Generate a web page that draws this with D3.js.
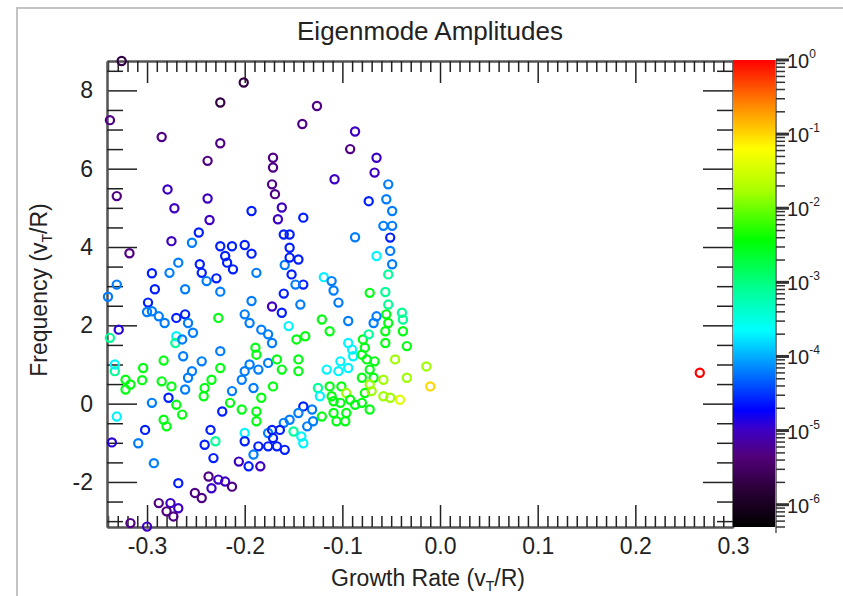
<!DOCTYPE html>
<html>
<head>
<meta charset="utf-8">
<script src="https://cdn.jsdelivr.net/npm/d3@7"></script>
<style>
  body { margin: 0; background: #fff; }
  text { font-family: "Liberation Sans", Arial, Helvetica, sans-serif; fill: #222; }
</style>
</head>
<body>
<div id="chart"></div>
<script>
// eigenmode growth rate, frequency and log10 amplitude
const growthRate = [
  -0.326, -0.201, -0.225, -0.338, -0.285, -0.225, -0.238, -0.331, -0.279, -0.238,
  -0.272, -0.193, -0.236, -0.275, -0.318, -0.247, -0.254, -0.225, -0.213, -0.200,
  -0.193, -0.220, -0.218, -0.212, -0.268, -0.277, -0.295, -0.246, -0.244, -0.239,
  -0.229, -0.188, -0.331, -0.292, -0.261, -0.225,
  -0.126, -0.141, -0.087, -0.092, -0.065, -0.171, -0.171, -0.108, -0.067, -0.053,
  -0.172, -0.169, -0.162, -0.073, -0.055, -0.049, -0.140, -0.166, -0.160, -0.154,
  -0.058, -0.049, -0.087, -0.051, -0.154, -0.051, -0.145, -0.159, -0.154, -0.065,
  -0.049, -0.152, -0.140, -0.148, -0.119, -0.111, -0.109, -0.053, -0.160, -0.072,
  -0.056,
  -0.299, -0.295, -0.300, -0.288, -0.282, -0.270, -0.261, -0.258, -0.253, -0.227,
  -0.193, -0.172, -0.200, -0.195, -0.183, -0.176, -0.340, -0.329, -0.338, -0.270,
  -0.271, -0.264, -0.263, -0.283, -0.304, -0.333, -0.333, -0.322, -0.322, -0.317,
  -0.305, -0.285, -0.275, -0.278, -0.295, -0.261, -0.254, -0.258, -0.244, -0.225,
  -0.225, -0.234, -0.241, -0.242, -0.270, -0.264, -0.283, -0.280, -0.331, -0.302,
  -0.309, -0.336, -0.293, -0.268, -0.235, -0.241, -0.230, -0.232, -0.223, -0.215,
  -0.213, -0.203, -0.200, -0.189, -0.188, -0.195, -0.186, -0.176, -0.191, -0.183,
  -0.203, -0.188, -0.188, -0.200, -0.176, -0.200, -0.186, -0.176, -0.191, -0.206,
  -0.196, -0.184, -0.237, -0.227, -0.220, -0.213, -0.234, -0.251, -0.244, -0.288,
  -0.276, -0.268, -0.280, -0.273, -0.317, -0.300,
  -0.143, -0.162, -0.104, -0.053, -0.039, -0.038, -0.055, -0.065, -0.068, -0.053,
  -0.038, -0.056, -0.056, -0.034, -0.121, -0.113, -0.094, -0.155, -0.147, -0.138,
  -0.172, -0.094, -0.079, -0.073, -0.077, -0.090, -0.089, -0.080, -0.075, -0.067,
  -0.046, -0.014, -0.034, -0.010, -0.167, -0.145, -0.162, -0.145, -0.116, -0.102,
  -0.104, -0.094, -0.080, -0.072, -0.068, -0.058, -0.072, -0.077, -0.070, -0.058,
  -0.051, -0.041, -0.171, -0.125, -0.113, -0.123, -0.111, -0.101, -0.096, -0.092,
  -0.109, -0.102, -0.087, -0.080, -0.072, -0.131, -0.140, -0.145, -0.121, -0.109,
  -0.096, -0.106, -0.097, -0.130, -0.136, -0.154, -0.160, -0.164, -0.172, -0.150,
  -0.142, -0.140, -0.171, -0.167, -0.159,
  0.266
];
const frequency = [
  8.75, 8.20, 7.69, 7.24, 6.81, 6.65, 6.20, 5.30, 5.47, 5.24,
  4.99, 4.92, 4.69, 4.15, 3.84, 4.37, 4.11, 4.02, 4.02, 4.05,
  3.83, 3.77, 3.60, 3.43, 3.60, 3.34, 3.33, 3.56, 3.34, 3.13,
  3.20, 3.34, 3.04, 2.92, 2.92, 2.86,
  7.60, 7.14, 6.95, 6.50, 6.28, 6.28, 6.03, 5.73, 5.90, 5.60,
  5.60, 5.35, 5.01, 5.17, 5.22, 4.92, 4.75, 4.71, 4.32, 4.32,
  4.54, 4.54, 4.25, 4.24, 3.98, 3.90, 3.68, 3.54, 3.73, 3.77,
  3.56, 3.30, 3.04, 3.04, 3.23, 3.13, 2.89, 3.30, 2.81, 2.83,
  2.85,
  2.58, 2.36, 2.34, 2.23, 2.06, 2.19, 2.28, 2.06, 1.81, 2.19,
  2.62, 2.48, 2.28, 2.06, 1.89, 1.77, 2.73, 1.89, 1.68, 1.72,
  1.55, 1.64, 1.21, 1.10, 0.91, 0.83, 1.00, 0.61, 0.36, 0.49,
  0.60, 0.57, 0.44, 0.15, 0.02, 0.36, 0.83, 0.66, 1.08, 1.34,
  0.91, 0.61, 0.40, 0.19, -0.03, -0.28, -0.41, -0.58, -0.33, -0.67,
  -1.01, -0.99, -1.52, -2.03, -0.67, -1.05, -0.96, -1.39, -0.20, 0.02,
  0.32, 0.61, 0.83, 1.43, 1.25, 1.00, 0.87, 1.04, 0.40, 0.15,
  -0.15, -0.20, -0.45, -0.75, -0.75, -0.96, -1.09, -1.09, -1.30, -1.48,
  -1.60, -1.60, -1.86, -1.94, -1.99, -2.12, -2.16, -2.28, -2.41, -2.54,
  -2.54, -2.67, -2.75, -2.88, -3.05, -3.14,
  2.53, 2.32, 2.58, 2.53, 2.32, 2.15, 2.28, 2.23, 2.06, 2.06,
  1.85, 1.85, 1.55, 1.47, 2.15, 1.85, 2.11, 1.98, 1.64, 1.72,
  1.55, 1.55, 1.64, 1.77, 1.43, 1.38, 1.21, 1.25, 1.13, 1.08,
  1.13, 0.95, 0.66, 0.44, 1.13, 1.13, 0.87, 0.83, 0.87, 1.08,
  0.83, 0.91, 0.66, 0.87, 0.66, 0.61, 0.49, 0.27, 0.32, 0.19,
  0.15, 0.10, 0.44, 0.40, 0.44, 0.19, 0.19, 0.44, 0.27, 0.10,
  0.06, 0.02, -0.03, 0.02, -0.15, -0.15, -0.07, -0.24, -0.33, -0.24,
  -0.24, -0.45, -0.45, -0.45, -0.58, -0.41, -0.49, -0.67, -0.67, -0.71,
  -0.84, -1.01, -0.88, -1.09, -1.18,
  0.79
];
const log10Amplitude = [
  -5.7, -5.7, -5.7, -5.3, -5.3, -5.3, -5.3, -5.3, -5.0, -5.0,
  -5.0, -4.6, -5.0, -5.0, -5.3, -4.6, -4.2, -4.6, -4.6, -4.6,
  -4.6, -4.6, -4.6, -4.6, -4.2, -4.2, -4.6, -4.6, -4.6, -4.2,
  -4.6, -4.2, -4.2, -4.6, -4.2, -4.2,
  -5.3, -5.3, -5.0, -5.3, -5.0, -5.3, -5.3, -5.0, -5.0, -4.2,
  -5.3, -5.3, -5.0, -4.6, -4.2, -4.2, -4.6, -5.0, -4.6, -4.6,
  -4.2, -4.2, -4.2, -4.6, -4.6, -4.2, -4.6, -4.2, -4.6, -3.7,
  -4.2, -4.6, -4.6, -4.2, -3.7, -4.2, -4.2, -3.1, -4.6, -2.5,
  -3.1,
  -4.6, -4.2, -4.2, -4.2, -4.2, -4.6, -4.6, -4.2, -4.2, -2.5,
  -4.2, -5.0, -4.2, -4.2, -4.2, -4.2, -4.2, -4.9, -3.1, -3.7,
  -3.1, -4.2, -4.2, -2.5, -2.5, -3.1, -3.7, -2.5, -2.5, -2.5,
  -2.5, -2.5, -2.5, -4.6, -4.2, -4.2, -4.2, -4.2, -4.2, -4.2,
  -2.5, -2.5, -2.5, -2.5, -2.5, -2.5, -2.5, -2.5, -3.7, -4.6,
  -4.2, -4.9, -4.2, -4.6, -4.6, -4.6, -3.1, -4.6, -4.6, -2.5,
  -4.2, -4.2, -4.2, -2.5, -2.5, -4.2, -4.2, -4.2, -4.2, -2.5,
  -2.5, -2.5, -2.5, -3.7, -4.2, -4.6, -4.6, -4.6, -4.2, -5.0,
  -4.6, -5.0, -5.3, -5.0, -5.0, -5.3, -5.0, -5.3, -5.3, -5.3,
  -5.0, -5.0, -5.3, -5.3, -5.3, -5.0,
  -4.2, -4.6, -4.2, -3.1, -3.1, -3.1, -2.5, -4.2, -4.2, -2.5,
  -2.5, -2.5, -2.5, -2.5, -2.5, -2.5, -4.2, -3.7, -2.5, -2.5,
  -4.2, -3.7, -2.5, -3.1, -2.5, -3.7, -3.7, -2.5, -2.5, -2.5,
  -1.8, -1.8, -1.8, -1.0, -2.5, -2.5, -2.5, -2.5, -3.7, -3.7,
  -3.7, -3.7, -2.5, -2.5, -2.5, -1.8, -1.8, -2.5, -1.8, -1.8,
  -1.8, -1.4, -2.5, -3.1, -2.5, -3.7, -2.5, -2.5, -1.8, -2.5,
  -2.5, -2.5, -2.5, -2.5, -2.5, -4.2, -4.6, -4.2, -2.5, -2.5,
  -2.5, -2.5, -2.5, -4.2, -4.2, -4.2, -4.2, -4.6, -4.6, -3.1,
  -3.7, -3.7, -4.6, -4.6, -4.6,
  0.0
];

const xTicks = [-0.3, -0.2, -0.1, 0.0, 0.1, 0.2, 0.3];
const yTicks = [-2, 0, 2, 4, 6, 8];
const cbDecades = [0, -1, -2, -3, -4, -5, -6];

const W = 843, H = 596;
const pLeft = 107, pRight = 733, pTop = 61, pBottom = 527;
const cbLeft = 733, cbRight = 775;

const svg = d3.select('#chart').append('svg')
  .attr('width', W).attr('height', H);

// window border seen in the screenshot
svg.append('path')
  .attr('d', `M17,${H} L17,8 L${W},8`)
  .attr('fill', 'none').attr('stroke', '#c4c4c4').attr('stroke-width', 2);

const x = d3.scaleLinear().domain([-0.341, 0.3]).range([pLeft, pRight]);
const y = d3.scaleLinear().domain([-3.15, 8.75]).range([pBottom, pTop]);

// rainbow + black colour table
const cmapStops = [0, 0.08, 0.15, 0.21, 0.25, 0.33, 0.42, 0.5, 0.615, 0.72, 0.81, 0.9, 1];
const cmapColors = ['#000000', '#2a0038', '#520078', '#3c00c8', '#0000ff', '#0078ff', '#00ffff',
  '#00ffa0', '#00ff00', '#a8ff00', '#ffff00', '#ff8c00', '#ff0000'];
const cmap = d3.scaleLinear().domain(cmapStops).range(cmapColors).clamp(true);
const ampT = d3.scaleLog().domain([5e-7, 1]).range([0, 1]).clamp(true);
const cbScale = d3.scaleLog().domain([5e-7, 1]).range([pBottom, pTop - 1]);

// minor tick positions
const xMinor = d3.range(-34, 31).map(i => i / 100).filter(v => Math.abs(v * 10 - Math.round(v * 10)) > 1e-6);
const yMinor = d3.range(-6, 18).map(i => i / 2).filter(v => v % 2 !== 0);

const tickStyle = g => {
  g.selectAll('.tick line').attr('stroke', '#222').attr('stroke-width', 1.5);
  g.select('.domain').attr('stroke', '#555').attr('stroke-width', 2);
  g.selectAll('.tick text').attr('font-size', 23).attr('fill', '#222')
    .attr('font-family', '"Liberation Sans", Arial, sans-serif');
};

// bottom
svg.append('g').attr('transform', `translate(0,${pBottom})`)
  .call(d3.axisBottom(x).tickValues(xTicks).tickSize(-22).tickSizeOuter(0).tickPadding(11)
    .tickFormat(d => d.toFixed(1)))
  .call(tickStyle);
svg.append('g').attr('transform', `translate(0,${pBottom})`)
  .call(d3.axisBottom(x).tickValues(xMinor).tickSize(-11).tickSizeOuter(0).tickFormat(''))
  .call(tickStyle);
// top
svg.append('g').attr('transform', `translate(0,${pTop})`)
  .call(d3.axisTop(x).tickValues(xTicks).tickSize(-22).tickSizeOuter(0).tickFormat(''))
  .call(tickStyle);
svg.append('g').attr('transform', `translate(0,${pTop})`)
  .call(d3.axisTop(x).tickValues(xMinor).tickSize(-11).tickSizeOuter(0).tickFormat(''))
  .call(tickStyle);
// left
svg.append('g').attr('transform', `translate(${pLeft},0)`)
  .call(d3.axisLeft(y).tickValues(yTicks).tickSize(-30).tickSizeOuter(0).tickPadding(14)
    .tickFormat(d => String(d)))
  .call(tickStyle);
svg.append('g').attr('transform', `translate(${pLeft},0)`)
  .call(d3.axisLeft(y).tickValues(yMinor).tickSize(-16).tickSizeOuter(0).tickFormat(''))
  .call(tickStyle);
// right
svg.append('g').attr('transform', `translate(${pRight},0)`)
  .call(d3.axisRight(y).tickValues(yTicks).tickSize(-30).tickSizeOuter(0).tickFormat(''))
  .call(tickStyle);
svg.append('g').attr('transform', `translate(${pRight},0)`)
  .call(d3.axisRight(y).tickValues(yMinor).tickSize(-16).tickSizeOuter(0).tickFormat(''))
  .call(tickStyle);

// points
svg.append('g').selectAll('circle')
  .data(growthRate.map((g, i) => ({ g, f: frequency[i], a: Math.pow(10, log10Amplitude[i]) })))
  .join('circle')
  .attr('cx', d => x(d.g))
  .attr('cy', d => y(d.f))
  .attr('r', 4.1)
  .attr('fill', 'none')
  .attr('stroke', d => cmap(ampT(d.a)))
  .attr('stroke-width', 2.2);

// colour bar
const grad = svg.append('defs').append('linearGradient')
  .attr('id', 'cbgrad').attr('x1', 0).attr('y1', 1).attr('x2', 0).attr('y2', 0);
grad.selectAll('stop').data(cmapStops).join('stop')
  .attr('offset', d => d)
  .attr('stop-color', (d, i) => cmapColors[i]);
svg.append('rect')
  .attr('x', cbLeft).attr('y', pTop - 1)
  .attr('width', cbRight - cbLeft).attr('height', pBottom - pTop + 1)
  .attr('fill', 'url(#cbgrad)');
svg.append('line')
  .attr('x1', cbRight + 1).attr('x2', cbRight + 1).attr('y1', pTop - 1).attr('y2', pBottom + 6)
  .attr('stroke', '#555').attr('stroke-width', 1.5);

const cbMinor = [];
cbDecades.forEach(e => { for (let m = 2; m <= 9; m++) cbMinor.push(m * Math.pow(10, e - 1)); });
svg.append('g').selectAll('line')
  .data(cbMinor.filter(v => v >= 5e-7))
  .join('line')
  .attr('x1', cbRight + 1).attr('x2', cbRight + 10)
  .attr('y1', d => cbScale(d)).attr('y2', d => cbScale(d))
  .attr('stroke', '#333').attr('stroke-width', 1.5);
svg.append('g').selectAll('line')
  .data(cbDecades)
  .join('line')
  .attr('x1', cbRight + 1).attr('x2', cbRight + 14)
  .attr('y1', d => cbScale(Math.pow(10, d))).attr('y2', d => cbScale(Math.pow(10, d)))
  .attr('stroke', '#333').attr('stroke-width', 3);
const cbLab = svg.append('g').selectAll('text')
  .data(cbDecades)
  .join('text')
  .attr('x', 787)
  .attr('y', d => cbScale(Math.pow(10, d)) + 8)
  .attr('font-size', 20);
cbLab.append('tspan').text('10');
cbLab.append('tspan').attr('font-size', 12).attr('dy', -10).text(d => String(d));

// titles
svg.append('text')
  .attr('x', 430).attr('y', 40)
  .attr('text-anchor', 'middle').attr('font-size', 26)
  .text('Eigenmode Amplitudes');

const xt = svg.append('text')
  .attr('x', 428).attr('y', 586)
  .attr('text-anchor', 'middle').attr('font-size', 23);
xt.append('tspan').text('Growth Rate (v');
xt.append('tspan').attr('font-size', 14).attr('dy', 5).text('T');
xt.append('tspan').attr('dy', -5).text('/R)');

const yt = svg.append('text')
  .attr('transform', 'translate(47,290) rotate(-90)')
  .attr('text-anchor', 'middle').attr('font-size', 23);
yt.append('tspan').text('Frequency (v');
yt.append('tspan').attr('font-size', 14).attr('dy', 5).text('T');
yt.append('tspan').attr('dy', -5).text('/R)');
</script>
</body>
</html>
